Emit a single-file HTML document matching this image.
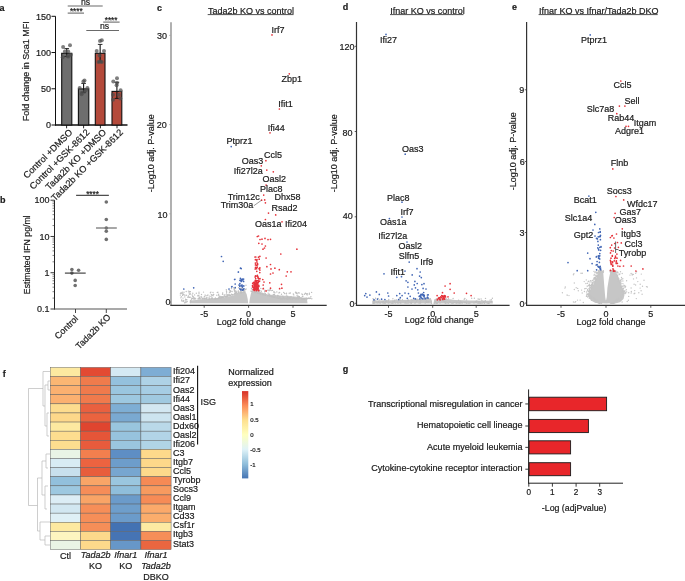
<!DOCTYPE html>
<html><head><meta charset="utf-8"><style>
html,body{margin:0;padding:0;background:#fff;width:685px;height:581px;overflow:hidden}
svg{display:block;will-change:transform}
text{font-family:"Liberation Sans",sans-serif;fill:#1a1a1a;stroke:#1a1a1a;stroke-width:0.2px}
</style></head><body>
<svg width="685" height="581" viewBox="0 0 685 581">
<rect width="685" height="581" fill="#fff"/>
<text x="-0.40" y="10.70" font-size="9" font-weight="bold" fill="#000">a</text>
<text x="0.00" y="203.30" font-size="9" font-weight="bold" fill="#000">b</text>
<text x="157.00" y="10.60" font-size="9" font-weight="bold" fill="#000">c</text>
<text x="342.80" y="10.40" font-size="9" font-weight="bold" fill="#000">d</text>
<text x="512.00" y="10.40" font-size="9" font-weight="bold" fill="#000">e</text>
<text x="2.80" y="376.60" font-size="9" font-weight="bold" fill="#000">f</text>
<text x="342.80" y="371.60" font-size="9" font-weight="bold" fill="#000">g</text>
<line x1="55.50" y1="16.30" x2="55.50" y2="125.50" stroke="#111" stroke-width="1"/>
<line x1="55.00" y1="125.00" x2="127.50" y2="125.00" stroke="#111" stroke-width="1.35"/>
<line x1="51.50" y1="16.30" x2="55.50" y2="16.30" stroke="#111" stroke-width="1"/>
<text x="51.00" y="19.50" font-size="9" text-anchor="end">150</text>
<line x1="51.50" y1="52.53" x2="55.50" y2="52.53" stroke="#111" stroke-width="1"/>
<text x="51.00" y="55.73" font-size="9" text-anchor="end">100</text>
<line x1="51.50" y1="88.77" x2="55.50" y2="88.77" stroke="#111" stroke-width="1"/>
<text x="51.00" y="91.97" font-size="9" text-anchor="end">50</text>
<line x1="51.50" y1="125.00" x2="55.50" y2="125.00" stroke="#111" stroke-width="1"/>
<text x="51.00" y="128.20" font-size="9" text-anchor="end">0</text>
<text x="29.30" y="71.20" font-size="9" text-anchor="middle" transform="rotate(-90 29.30 71.20)">Fold change in Sca1 MFI</text>
<rect x="61.70" y="53.30" width="10.10" height="71.70" fill="#6e6e6e" stroke="#111" stroke-width="1.1"/>
<rect x="78.40" y="88.90" width="10.40" height="36.10" fill="#6e6e6e" stroke="#111" stroke-width="1.1"/>
<rect x="95.30" y="53.30" width="9.70" height="71.70" fill="#b44a3b" stroke="#111" stroke-width="1.1"/>
<rect x="112.00" y="91.40" width="9.80" height="33.60" fill="#b44a3b" stroke="#111" stroke-width="1.1"/>
<line x1="66.75" y1="48.60" x2="66.75" y2="56.50" stroke="#111" stroke-width="1.1"/>
<line x1="64.45" y1="48.60" x2="69.05" y2="48.60" stroke="#111" stroke-width="0.9"/>
<line x1="64.45" y1="56.50" x2="69.05" y2="56.50" stroke="#111" stroke-width="0.9"/>
<line x1="83.60" y1="83.40" x2="83.60" y2="92.30" stroke="#111" stroke-width="1.1"/>
<line x1="81.30" y1="83.40" x2="85.90" y2="83.40" stroke="#111" stroke-width="0.9"/>
<line x1="81.30" y1="92.30" x2="85.90" y2="92.30" stroke="#111" stroke-width="0.9"/>
<line x1="100.15" y1="44.40" x2="100.15" y2="62.00" stroke="#111" stroke-width="1.1"/>
<line x1="97.85" y1="44.40" x2="102.45" y2="44.40" stroke="#111" stroke-width="0.9"/>
<line x1="97.85" y1="62.00" x2="102.45" y2="62.00" stroke="#111" stroke-width="0.9"/>
<line x1="116.90" y1="82.30" x2="116.90" y2="98.40" stroke="#111" stroke-width="1.1"/>
<line x1="114.60" y1="82.30" x2="119.20" y2="82.30" stroke="#111" stroke-width="0.9"/>
<line x1="114.60" y1="98.40" x2="119.20" y2="98.40" stroke="#111" stroke-width="0.9"/>
<circle cx="63.10" cy="46.90" r="2.0" fill="#4e4e4e" fill-opacity="0.72"/>
<circle cx="70.00" cy="45.30" r="2.0" fill="#4e4e4e" fill-opacity="0.72"/>
<circle cx="64.90" cy="51.50" r="2.0" fill="#4e4e4e" fill-opacity="0.72"/>
<circle cx="68.20" cy="51.50" r="2.0" fill="#4e4e4e" fill-opacity="0.72"/>
<circle cx="70.80" cy="54.80" r="2.0" fill="#4e4e4e" fill-opacity="0.72"/>
<circle cx="62.70" cy="57.30" r="2.0" fill="#4e4e4e" fill-opacity="0.72"/>
<circle cx="67.50" cy="56.20" r="2.0" fill="#4e4e4e" fill-opacity="0.72"/>
<circle cx="68.50" cy="56.50" r="2.0" fill="#4e4e4e" fill-opacity="0.72"/>
<circle cx="84.50" cy="80.50" r="2.0" fill="#4e4e4e" fill-opacity="0.72"/>
<circle cx="83.40" cy="81.60" r="2.0" fill="#4e4e4e" fill-opacity="0.72"/>
<circle cx="79.70" cy="88.10" r="2.0" fill="#4e4e4e" fill-opacity="0.72"/>
<circle cx="87.40" cy="88.10" r="2.0" fill="#4e4e4e" fill-opacity="0.72"/>
<circle cx="81.60" cy="92.90" r="2.0" fill="#4e4e4e" fill-opacity="0.72"/>
<circle cx="84.50" cy="91.80" r="2.0" fill="#4e4e4e" fill-opacity="0.72"/>
<circle cx="81.60" cy="94.30" r="2.0" fill="#4e4e4e" fill-opacity="0.72"/>
<circle cx="86.00" cy="90.00" r="2.0" fill="#4e4e4e" fill-opacity="0.72"/>
<circle cx="100.00" cy="40.90" r="2.0" fill="#4e4e4e" fill-opacity="0.72"/>
<circle cx="101.80" cy="40.20" r="2.0" fill="#4e4e4e" fill-opacity="0.72"/>
<circle cx="96.70" cy="51.10" r="2.0" fill="#4e4e4e" fill-opacity="0.72"/>
<circle cx="104.00" cy="51.10" r="2.0" fill="#4e4e4e" fill-opacity="0.72"/>
<circle cx="99.60" cy="55.50" r="2.0" fill="#4e4e4e" fill-opacity="0.72"/>
<circle cx="100.30" cy="61.40" r="2.0" fill="#4e4e4e" fill-opacity="0.72"/>
<circle cx="98.50" cy="62.10" r="2.0" fill="#4e4e4e" fill-opacity="0.72"/>
<circle cx="101.80" cy="62.10" r="2.0" fill="#4e4e4e" fill-opacity="0.72"/>
<circle cx="117.00" cy="78.30" r="2.0" fill="#4e4e4e" fill-opacity="0.72"/>
<circle cx="113.30" cy="81.60" r="2.0" fill="#4e4e4e" fill-opacity="0.72"/>
<circle cx="117.00" cy="83.00" r="2.0" fill="#4e4e4e" fill-opacity="0.72"/>
<circle cx="116.60" cy="85.20" r="2.0" fill="#4e4e4e" fill-opacity="0.72"/>
<circle cx="120.60" cy="90.30" r="2.0" fill="#4e4e4e" fill-opacity="0.72"/>
<circle cx="113.00" cy="94.70" r="2.0" fill="#4e4e4e" fill-opacity="0.72"/>
<circle cx="118.80" cy="94.70" r="2.0" fill="#4e4e4e" fill-opacity="0.72"/>
<circle cx="113.00" cy="99.80" r="2.0" fill="#4e4e4e" fill-opacity="0.72"/>
<circle cx="120.30" cy="98.40" r="2.0" fill="#4e4e4e" fill-opacity="0.72"/>
<line x1="66.60" y1="125.00" x2="66.60" y2="128.30" stroke="#111" stroke-width="0.9"/>
<line x1="83.60" y1="125.00" x2="83.60" y2="128.30" stroke="#111" stroke-width="0.9"/>
<line x1="100.40" y1="125.00" x2="100.40" y2="128.30" stroke="#111" stroke-width="0.9"/>
<line x1="117.00" y1="125.00" x2="117.00" y2="128.30" stroke="#111" stroke-width="0.9"/>
<text x="73.10" y="133.00" font-size="9.2" text-anchor="end" transform="rotate(-45 73.10 133.00)">Control +DMSO</text>
<text x="90.10" y="133.00" font-size="9.2" text-anchor="end" transform="rotate(-45 90.10 133.00)">Control +GSK-8612</text>
<text x="106.90" y="133.00" font-size="9.2" text-anchor="end" transform="rotate(-45 106.90 133.00)">Tada2b KO +DMSO</text>
<text x="123.50" y="133.00" font-size="9.2" text-anchor="end" transform="rotate(-45 123.50 133.00)">Tada2b KO +GSK-8612</text>
<line x1="67.70" y1="5.95" x2="102.70" y2="5.95" stroke="#6a6a6a" stroke-width="1.1"/>
<text x="85.50" y="4.60" font-size="8.7" text-anchor="middle">ns</text>
<line x1="67.70" y1="13.10" x2="84.00" y2="13.10" stroke="#6a6a6a" stroke-width="1.1"/>
<text x="76.30" y="14.20" font-size="8.2" text-anchor="middle">****</text>
<line x1="103.20" y1="22.10" x2="119.60" y2="22.10" stroke="#6a6a6a" stroke-width="1.1"/>
<text x="111.10" y="23.20" font-size="8.2" text-anchor="middle">****</text>
<line x1="86.30" y1="30.50" x2="119.00" y2="30.50" stroke="#6a6a6a" stroke-width="1.1"/>
<text x="104.60" y="28.90" font-size="8.7" text-anchor="middle">ns</text>
<line x1="54.50" y1="200.20" x2="54.50" y2="309.50" stroke="#222" stroke-width="1"/>
<line x1="54.00" y1="309.00" x2="127.00" y2="309.00" stroke="#555" stroke-width="1.2"/>
<line x1="50.50" y1="200.20" x2="54.50" y2="200.20" stroke="#222" stroke-width="0.9"/>
<text x="49.60" y="203.40" font-size="9" text-anchor="end">100</text>
<line x1="50.50" y1="236.47" x2="54.50" y2="236.47" stroke="#222" stroke-width="0.9"/>
<text x="49.60" y="239.67" font-size="9" text-anchor="end">10</text>
<line x1="50.50" y1="272.73" x2="54.50" y2="272.73" stroke="#222" stroke-width="0.9"/>
<text x="49.60" y="275.93" font-size="9" text-anchor="end">1</text>
<line x1="50.50" y1="309.00" x2="54.50" y2="309.00" stroke="#222" stroke-width="0.9"/>
<text x="49.60" y="312.20" font-size="9" text-anchor="end">0.1</text>
<line x1="52.50" y1="298.08" x2="54.50" y2="298.08" stroke="#333" stroke-width="0.6"/>
<line x1="52.50" y1="291.70" x2="54.50" y2="291.70" stroke="#333" stroke-width="0.6"/>
<line x1="52.50" y1="287.17" x2="54.50" y2="287.17" stroke="#333" stroke-width="0.6"/>
<line x1="52.50" y1="283.65" x2="54.50" y2="283.65" stroke="#333" stroke-width="0.6"/>
<line x1="52.50" y1="280.78" x2="54.50" y2="280.78" stroke="#333" stroke-width="0.6"/>
<line x1="52.50" y1="278.35" x2="54.50" y2="278.35" stroke="#333" stroke-width="0.6"/>
<line x1="52.50" y1="276.25" x2="54.50" y2="276.25" stroke="#333" stroke-width="0.6"/>
<line x1="52.50" y1="274.39" x2="54.50" y2="274.39" stroke="#333" stroke-width="0.6"/>
<line x1="52.50" y1="261.82" x2="54.50" y2="261.82" stroke="#333" stroke-width="0.6"/>
<line x1="52.50" y1="255.43" x2="54.50" y2="255.43" stroke="#333" stroke-width="0.6"/>
<line x1="52.50" y1="250.90" x2="54.50" y2="250.90" stroke="#333" stroke-width="0.6"/>
<line x1="52.50" y1="247.38" x2="54.50" y2="247.38" stroke="#333" stroke-width="0.6"/>
<line x1="52.50" y1="244.51" x2="54.50" y2="244.51" stroke="#333" stroke-width="0.6"/>
<line x1="52.50" y1="242.08" x2="54.50" y2="242.08" stroke="#333" stroke-width="0.6"/>
<line x1="52.50" y1="239.98" x2="54.50" y2="239.98" stroke="#333" stroke-width="0.6"/>
<line x1="52.50" y1="238.13" x2="54.50" y2="238.13" stroke="#333" stroke-width="0.6"/>
<line x1="52.50" y1="225.55" x2="54.50" y2="225.55" stroke="#333" stroke-width="0.6"/>
<line x1="52.50" y1="219.16" x2="54.50" y2="219.16" stroke="#333" stroke-width="0.6"/>
<line x1="52.50" y1="214.63" x2="54.50" y2="214.63" stroke="#333" stroke-width="0.6"/>
<line x1="52.50" y1="211.12" x2="54.50" y2="211.12" stroke="#333" stroke-width="0.6"/>
<line x1="52.50" y1="208.25" x2="54.50" y2="208.25" stroke="#333" stroke-width="0.6"/>
<line x1="52.50" y1="205.82" x2="54.50" y2="205.82" stroke="#333" stroke-width="0.6"/>
<line x1="52.50" y1="203.71" x2="54.50" y2="203.71" stroke="#333" stroke-width="0.6"/>
<line x1="52.50" y1="201.86" x2="54.50" y2="201.86" stroke="#333" stroke-width="0.6"/>
<text x="29.60" y="254.80" font-size="8.7" text-anchor="middle" transform="rotate(-90 29.60 254.80)">Estimated IFN pg/ml</text>
<circle cx="71.90" cy="269.50" r="1.8" fill="#707070"/>
<circle cx="78.60" cy="270.20" r="1.8" fill="#707070"/>
<circle cx="71.90" cy="273.10" r="1.8" fill="#707070"/>
<circle cx="75.20" cy="280.40" r="1.8" fill="#707070"/>
<circle cx="75.20" cy="285.50" r="1.8" fill="#707070"/>
<circle cx="106.30" cy="202.00" r="1.8" fill="#707070"/>
<circle cx="106.30" cy="219.50" r="1.8" fill="#707070"/>
<circle cx="106.30" cy="228.00" r="1.8" fill="#707070"/>
<circle cx="106.30" cy="231.30" r="1.8" fill="#707070"/>
<circle cx="106.30" cy="239.40" r="1.8" fill="#707070"/>
<line x1="64.90" y1="273.10" x2="85.70" y2="273.10" stroke="#333" stroke-width="1.1"/>
<line x1="96.00" y1="228.00" x2="116.80" y2="228.00" stroke="#777" stroke-width="1.3"/>
<line x1="75.50" y1="309.00" x2="75.50" y2="313.00" stroke="#333" stroke-width="0.9"/>
<line x1="106.30" y1="309.00" x2="106.30" y2="313.00" stroke="#333" stroke-width="0.9"/>
<text x="78.80" y="319.20" font-size="9" text-anchor="end" transform="rotate(-45 78.80 319.20)">Control</text>
<text x="111.20" y="317.80" font-size="9" text-anchor="end" transform="rotate(-45 111.20 317.80)">Tada2b KO</text>
<line x1="76.10" y1="195.30" x2="108.90" y2="195.30" stroke="#222" stroke-width="1"/>
<text x="92.50" y="196.70" font-size="8.2" text-anchor="middle">****</text>
<line x1="171.00" y1="22.30" x2="171.00" y2="305.90" stroke="#a3a3a3" stroke-width="1.7"/>
<line x1="170.40" y1="305.30" x2="326.70" y2="305.30" stroke="#333" stroke-width="1.2"/>
<line x1="169.20" y1="35.40" x2="171.00" y2="35.40" stroke="#a3a3a3" stroke-width="0.8"/>
<text x="167.10" y="38.70" font-size="9" text-anchor="end">30</text>
<line x1="169.20" y1="124.60" x2="171.00" y2="124.60" stroke="#a3a3a3" stroke-width="0.8"/>
<text x="166.70" y="128.00" font-size="9" text-anchor="end">20</text>
<line x1="169.20" y1="213.80" x2="171.00" y2="213.80" stroke="#a3a3a3" stroke-width="0.8"/>
<text x="167.40" y="217.70" font-size="9" text-anchor="end">10</text>
<line x1="169.20" y1="302.80" x2="171.00" y2="302.80" stroke="#a3a3a3" stroke-width="0.8"/>
<text x="170.40" y="305.00" font-size="9" text-anchor="end">0</text>
<line x1="204.20" y1="305.30" x2="204.20" y2="307.80" stroke="#333" stroke-width="0.8"/>
<text x="204.20" y="316.50" font-size="9" text-anchor="middle">-5</text>
<line x1="248.60" y1="305.30" x2="248.60" y2="307.80" stroke="#333" stroke-width="0.8"/>
<text x="248.60" y="316.50" font-size="9" text-anchor="middle">0</text>
<line x1="293.00" y1="305.30" x2="293.00" y2="307.80" stroke="#333" stroke-width="0.8"/>
<text x="293.00" y="316.50" font-size="9" text-anchor="middle">5</text>
<text x="251.20" y="325.30" font-size="9" text-anchor="middle">Log2 fold change</text>
<text x="153.60" y="153.30" font-size="9" text-anchor="middle" transform="rotate(-90 153.60 153.30)">-Log10 adj. P-value</text>
<text x="208.00" y="13.60" font-size="9">Tada2b KO vs control</text>
<line x1="207.70" y1="14.60" x2="293.60" y2="14.60" stroke="#222" stroke-width="0.8"/>
<polygon points="190.0,303.3 190.0,300.5 205.0,299.2 220.0,297.8 228.0,296.8 234.0,295.2 238.0,292.8 241.0,291.7 245.3,291.7 246.6,294.0 247.7,299.0 248.2,303.3" fill="#c6c6c6"/>
<polygon points="249.2,303.3 249.8,299.0 250.8,294.0 251.8,291.2 258.0,291.0 262.0,292.6 268.0,294.5 280.0,295.5 295.0,296.6 303.0,297.6 307.0,299.2 307.5,303.3" fill="#c6c6c6"/>
<path d="M211.4 297.9h0M228.8 294.4h0M262.6 294.5h0M181.7 299.9h0M210.9 292.1h0M242.1 288.5h0M242.9 290.6h0M199.9 297.2h0M294.6 298.0h0M277.8 296.2h0M188.5 295.9h0M219.8 298.2h0M294.2 298.3h0M274.9 292.8h0M274.3 291.9h0M232.1 291.5h0M238.7 287.7h0M296.0 299.0h0M197.9 298.9h0M307.4 298.4h0M262.7 294.3h0M230.9 295.1h0M257.2 291.8h0M299.4 296.8h0M302.6 294.6h0M310.8 296.9h0M201.5 294.5h0M307.3 293.8h0M255.1 290.1h0M207.9 295.0h0M255.7 292.6h0M188.4 291.1h0M191.7 298.1h0M199.9 298.8h0M281.5 294.3h0M185.8 302.5h0M274.8 297.3h0M296.3 292.4h0M311.8 298.8h0M190.2 302.6h0M206.1 298.5h0M260.6 294.0h0M185.6 299.2h0M306.5 294.0h0M229.9 295.0h0M265.0 293.6h0M253.8 290.6h0M304.2 298.1h0M236.9 291.3h0M211.4 298.8h0M309.1 298.0h0M252.4 291.9h0M234.8 293.1h0M182.6 295.4h0M187.9 297.4h0M269.7 296.0h0M273.3 294.4h0M182.9 294.9h0M307.2 298.9h0M240.2 291.6h0M222.2 297.3h0M221.3 297.5h0M258.6 293.3h0M229.8 292.5h0M183.6 294.2h0M220.9 297.8h0M286.1 298.9h0M204.7 298.4h0M272.1 296.9h0M222.5 297.3h0M290.0 298.4h0M292.9 299.0h0M224.4 295.1h0M296.8 298.4h0M209.7 299.0h0M205.2 295.3h0M290.7 299.0h0M216.8 295.3h0M264.7 291.4h0M225.6 296.7h0M218.5 295.0h0M215.8 298.7h0M235.0 293.9h0M234.1 289.2h0M200.6 299.0h0M304.5 294.2h0M310.3 298.4h0M305.4 293.4h0M209.3 296.1h0M290.4 297.0h0M218.2 298.3h0M210.0 299.0h0M257.7 293.1h0M286.9 299.0h0M299.3 296.7h0M301.9 294.0h0M298.8 297.7h0M181.7 300.9h0M219.6 296.2h0M234.6 288.7h0M260.8 293.8h0M213.3 294.5h0M243.0 289.1h0M226.4 296.5h0M287.8 299.0h0M284.5 293.5h0M286.4 295.1h0M181.0 292.6h0M186.6 299.8h0M235.8 293.5h0M282.5 299.0h0M187.2 301.5h0M189.0 292.7h0M191.4 299.2h0M221.5 297.5h0M265.4 293.8h0M227.6 296.2h0M223.4 297.3h0M253.3 289.6h0M230.2 295.6h0M203.6 298.6h0M259.8 290.4h0M230.2 292.0h0M262.2 293.8h0M229.2 295.0h0M272.8 296.5h0M271.6 296.1h0M212.4 297.9h0M271.8 296.8h0M236.1 293.6h0M296.1 293.3h0M229.4 290.7h0M284.4 298.9h0M241.3 292.8h0M287.3 297.0h0M297.1 295.5h0M268.1 293.1h0M254.4 292.4h0M257.6 293.2h0M198.9 295.8h0M185.8 301.8h0M296.2 299.0h0M183.1 301.5h0M291.4 296.9h0M290.4 293.0h0M256.4 289.4h0M184.8 296.9h0M274.4 297.4h0M278.9 292.9h0M188.1 296.2h0M289.3 298.9h0M203.7 298.9h0M261.3 291.2h0M232.0 294.8h0M232.4 294.8h0M235.2 294.3h0M246.0 285.2h0M234.5 291.6h0M201.2 296.7h0M279.8 296.7h0M243.9 290.3h0M298.5 299.0h0M192.7 296.1h0M301.0 298.0h0M238.5 290.9h0M204.6 298.9h0M206.3 297.6h0M221.6 297.7h0M271.2 290.6h0M219.1 295.9h0M234.5 290.2h0M257.2 293.0h0M208.7 299.0h0M243.3 291.9h0M202.7 298.7h0M222.5 294.3h0M199.0 292.2h0M243.3 290.8h0M241.8 288.6h0M288.5 297.8h0M243.5 289.6h0M293.1 298.6h0M276.8 291.9h0M241.7 292.6h0M211.0 296.4h0M269.1 290.0h0M292.7 298.9h0M205.0 298.9h0M204.7 296.5h0M293.3 293.9h0M213.7 294.5h0M221.4 297.3h0M276.2 297.9h0M192.2 294.9h0M218.5 298.2h0M256.6 290.8h0M180.9 297.8h0M244.1 292.1h0M257.2 287.1h0M231.6 294.1h0M195.7 298.9h0M267.8 295.8h0M297.1 293.7h0M192.8 293.2h0M229.4 292.6h0M280.0 298.7h0M269.2 294.2h0M286.4 298.9h0M279.6 292.5h0M268.8 295.0h0M195.0 298.2h0M226.5 293.9h0M269.6 295.0h0M204.0 297.1h0M263.3 294.6h0M297.5 297.0h0M196.3 293.3h0M198.7 298.7h0M275.1 296.1h0M253.2 290.3h0M240.4 292.8h0M203.3 299.0h0M274.5 294.5h0M251.7 288.9h0M227.4 296.2h0M230.6 290.8h0M185.6 300.0h0M281.5 298.7h0M223.9 296.7h0M251.5 288.5h0M226.6 292.3h0M194.8 298.9h0M193.2 299.0h0M282.8 296.3h0M204.4 299.0h0M235.0 291.5h0M287.7 296.1h0M258.1 293.4h0M232.6 295.0h0M255.0 292.5h0M213.0 295.7h0M184.0 292.3h0M305.3 298.6h0M252.9 290.7h0M263.6 288.2h0M270.6 296.3h0M293.5 298.2h0M259.4 291.0h0M180.3 295.1h0M244.9 290.9h0M240.8 292.9h0M184.9 295.2h0M238.6 292.2h0M306.6 294.0h0M197.9 295.5h0M262.3 294.4h0M227.5 296.2h0M190.3 291.8h0M222.7 292.9h0M271.7 296.8h0M293.3 297.5h0M302.4 296.4h0M277.6 298.0h0M286.5 293.3h0M293.7 298.4h0M279.9 298.0h0M194.4 299.0h0M190.3 301.1h0M245.6 289.4h0M250.9 291.1h0M265.7 295.1h0M241.3 289.8h0M233.0 294.9h0M298.7 296.4h0M228.4 295.7h0M258.7 293.5h0M180.4 293.6h0M198.9 298.3h0M205.8 298.9h0M202.5 298.5h0M202.2 299.0h0M194.5 299.0h0M244.7 292.0h0M183.0 298.1h0M272.9 297.1h0M233.2 294.4h0M183.5 300.4h0M192.4 298.3h0M201.7 297.3h0M225.7 296.7h0M186.8 299.7h0M284.0 298.3h0M303.1 298.8h0M213.0 298.9h0M287.5 297.3h0M225.5 296.8h0M270.1 290.0h0M258.2 293.4h0M184.0 301.0h0M184.8 295.1h0M298.8 298.9h0M308.5 298.2h0M286.1 293.6h0M304.1 299.0h0M220.2 296.5h0M304.9 299.0h0M218.7 294.2h0M195.1 298.6h0M224.1 294.9h0M302.6 299.0h0M277.7 295.5h0M290.3 297.8h0M301.9 298.7h0M234.7 294.4h0M282.9 298.2h0M215.6 299.0h0M275.1 296.1h0M273.8 296.9h0M244.3 292.0h0M273.8 297.3h0M241.6 289.7h0M269.4 296.2h0M211.3 294.8h0M264.8 290.3h0M295.1 298.4h0M298.4 296.2h0M224.0 296.8h0M189.5 291.5h0M193.9 297.7h0M194.5 299.0h0M265.7 295.2h0M186.4 295.3h0M257.3 293.2h0M210.4 292.7h0M209.1 297.8h0M235.4 291.0h0M259.8 290.4h0M204.8 299.0h0M190.4 301.6h0M183.2 300.6h0M297.9 299.0h0M241.4 292.7h0M289.5 297.4h0M264.7 291.9h0M295.1 298.7h0M259.6 293.1h0M194.6 294.9h0M258.5 289.7h0M207.2 297.9h0M241.3 290.1h0M190.2 297.2h0M189.4 294.2h0M235.8 292.3h0M260.0 293.8h0M226.3 289.7h0M224.2 296.5h0M191.1 301.0h0M302.9 296.3h0M295.5 292.3h0M260.8 288.4h0M235.3 288.4h0M299.2 293.0h0M243.9 288.9h0M233.7 287.8h0M301.5 298.8h0M303.3 299.0h0M192.7 296.4h0M218.8 297.5h0M264.4 294.9h0M278.4 298.3h0M237.1 293.6h0M278.0 295.4h0M217.9 298.7h0M219.5 297.8h0M190.2 293.8h0M272.5 290.4h0M309.3 294.3h0M229.2 295.8h0M221.2 297.2h0M251.6 291.4h0M292.6 298.8h0M241.1 288.0h0M286.5 298.8h0M212.0 295.3h0M181.3 296.6h0M201.9 299.0h0M206.9 295.8h0M241.5 286.2h0M283.7 292.4h0M184.6 302.8h0M237.1 293.6h0M186.8 301.9h0M221.1 297.8h0M285.9 298.5h0M214.4 299.0h0M236.7 292.2h0M269.1 290.8h0M286.7 298.9h0M197.9 295.9h0M284.2 298.1h0M289.7 297.8h0M216.9 298.9h0M182.3 292.2h0M299.6 298.3h0M267.8 290.2h0M287.4 297.5h0M234.7 293.5h0M202.5 299.0h0M270.3 289.6h0M252.2 291.4h0M226.5 295.9h0M286.0 298.4h0M306.6 299.0h0M221.6 296.8h0M234.4 290.2h0M289.2 293.3h0M260.8 294.1h0M255.8 291.6h0M244.4 291.9h0M273.6 292.0h0M193.5 296.9h0M229.0 294.9h0M298.2 292.8h0M264.9 295.0h0M301.5 299.0h0M230.6 291.5h0M221.7 297.6h0M305.4 293.1h0M221.9 297.3h0M217.2 298.8h0M213.0 292.4h0M190.5 300.6h0M190.5 294.1h0M290.7 297.2h0M288.0 299.0h0M217.2 292.6h0M189.2 297.2h0M215.4 297.9h0M186.2 291.5h0M199.0 293.8h0M203.5 292.1h0M269.0 294.2h0M198.8 299.0h0M280.2 298.9h0M205.0 295.1h0M295.5 299.0h0M306.8 297.9h0M230.5 295.5h0M231.5 288.5h0M217.1 298.9h0M199.2 299.0h0M226.5 291.2h0M190.2 291.7h0M311.6 292.4h0M212.5 298.7h0M305.5 298.2h0M272.9 296.8h0M182.8 294.0h0M283.2 297.7h0M241.3 291.7h0M238.4 292.5h0M290.0 298.9h0M258.4 287.8h0M292.0 299.0h0M307.2 294.9h0M202.2 298.9h0M206.7 299.0h0M309.1 298.5h0M295.2 299.0h0M181.8 293.5h0M310.9 296.7h0M281.1 299.0h0M251.3 291.1h0M199.3 297.5h0M222.7 296.6h0M229.3 295.6h0M227.3 294.8h0M309.4 293.3h0M293.8 294.9h0M217.9 292.2h0M215.6 299.0h0M246.1 288.9h0M225.0 295.0h0" stroke="#bfbfbf" stroke-width="1.4" stroke-linecap="round" stroke-opacity="1" fill="none"/>
<path d="M183.8 289.0h0M193.7 287.8h0M221.5 256.5h0M223.2 261.3h0M238.4 272.0h0M240.5 268.2h0M241.2 268.6h0M238.3 272.1h0M234.9 279.3h0M235.2 284.0h0M232.0 286.6h0M229.0 289.0h0M235.2 287.5h0M234.6 279.5h0M231.7 286.8h0M239.0 285.0h0M231.2 146.6h0M242.4 287.1h0M243.1 289.8h0M242.9 289.5h0M239.9 283.6h0M243.8 285.9h0M243.6 279.0h0M241.8 280.7h0M242.1 285.0h0M239.9 280.3h0M241.0 289.4h0M243.0 279.6h0M243.1 279.3h0M242.4 279.1h0M239.8 288.8h0M240.7 280.3h0M243.9 288.8h0M241.0 290.0h0M242.1 286.3h0M240.7 289.7h0M242.7 290.1h0M243.6 281.4h0M241.3 279.7h0M240.4 278.3h0M241.1 285.3h0M239.8 286.3h0M241.2 281.5h0" stroke="#4166b5" stroke-width="1.7" stroke-linecap="round" stroke-opacity="1" fill="none"/>
<path d="M257.3 236.5h0M258.5 236.0h0M260.0 239.5h0M262.0 239.2h0M265.0 238.4h0M268.0 239.6h0M270.5 239.3h0M258.8 243.3h0M262.0 244.0h0M265.4 246.0h0M263.0 249.2h0M264.5 248.0h0M296.9 249.2h0M280.8 254.0h0M266.1 258.0h0M266.9 266.7h0M270.5 264.5h0M271.0 268.9h0M274.9 268.2h0M279.3 269.7h0M270.5 274.0h0M273.0 273.0h0M287.3 271.8h0M291.0 271.8h0M286.2 276.0h0M262.8 279.5h0M269.8 282.8h0M281.5 284.3h0M279.6 288.7h0M281.9 288.2h0M270.5 288.2h0M266.1 290.9h0M263.2 285.0h0M263.2 288.7h0M264.0 282.0h0M265.9 160.7h0M261.3 165.8h0M266.8 170.1h0M273.3 171.8h0M266.1 185.1h0M263.7 195.1h0M261.6 200.2h0M264.7 199.9h0M265.4 202.8h0M268.5 213.1h0M275.7 214.9h0M265.4 219.5h0M282.0 221.8h0M272.0 34.9h0M289.3 73.8h0M279.4 109.0h0M270.0 132.8h0M259.1 268.7h0M256.6 268.7h0M258.5 257.2h0M259.9 256.3h0M258.7 278.5h0M255.1 277.0h0M256.8 271.3h0M255.0 257.0h0M255.9 281.5h0M256.0 276.1h0M259.6 281.1h0M256.7 265.3h0M257.6 276.6h0M255.5 275.9h0M259.0 278.9h0M255.2 281.2h0M255.5 264.9h0M258.1 280.5h0M256.7 280.7h0M257.7 264.1h0M256.6 260.5h0M255.4 259.7h0M258.4 282.6h0M255.8 257.0h0M259.9 270.1h0M257.0 262.1h0M258.0 278.0h0M257.3 267.1h0M255.3 280.4h0M255.2 269.0h0M259.2 259.2h0M258.7 281.3h0M258.2 277.0h0M255.5 267.4h0M255.7 278.5h0M256.5 267.9h0M260.0 278.7h0M259.9 267.9h0M257.4 275.4h0M257.4 263.6h0M257.0 259.7h0M256.9 282.4h0M259.8 272.6h0M257.5 264.8h0M255.4 263.1h0M257.6 289.8h0M254.8 289.1h0M257.5 288.3h0M256.8 288.8h0M254.9 288.3h0M254.3 286.4h0M257.5 288.2h0M254.4 290.5h0M256.7 287.2h0M252.6 286.9h0M254.1 288.0h0M255.5 289.4h0M256.7 289.2h0M254.8 287.8h0M257.3 289.5h0M254.8 289.6h0M258.2 288.2h0M258.8 290.6h0M255.9 286.8h0M253.6 289.5h0M258.6 286.3h0M257.0 288.5h0M257.2 283.5h0M257.6 287.2h0M256.8 285.8h0M256.6 289.0h0M256.6 288.5h0M252.7 283.4h0M255.4 287.9h0M253.9 288.2h0M256.6 282.4h0M255.6 284.0h0M252.9 283.2h0M254.6 283.6h0M253.8 282.3h0M255.5 285.4h0M256.5 287.3h0M254.0 290.1h0M252.5 285.6h0M254.3 285.7h0M253.2 289.5h0M254.9 282.3h0M256.5 282.9h0M256.0 285.1h0M256.3 290.6h0M257.8 285.8h0M257.8 287.8h0M254.9 283.3h0M256.4 287.1h0M258.7 290.7h0M256.5 285.2h0M258.3 282.0h0M253.2 287.1h0M256.5 283.3h0M256.6 290.0h0M254.9 285.9h0M254.0 284.6h0M258.8 285.4h0M258.7 290.2h0M256.4 284.3h0M258.9 286.5h0M255.2 284.9h0M258.9 286.4h0M254.4 286.3h0M253.3 287.6h0M255.4 284.6h0M257.6 289.4h0M252.6 286.8h0M254.3 290.4h0M257.6 284.2h0" stroke="#e5323a" stroke-width="1.7" stroke-linecap="round" stroke-opacity="1" fill="none"/>
<text x="271.60" y="33.10" font-size="9">Irf7</text>
<text x="281.60" y="82.00" font-size="9">Zbp1</text>
<text x="278.20" y="106.80" font-size="9">Ifit1</text>
<text x="267.80" y="130.60" font-size="9">Ifi44</text>
<text x="226.50" y="144.00" font-size="9">Ptprz1</text>
<text x="263.90" y="158.10" font-size="9">Ccl5</text>
<text x="241.80" y="163.80" font-size="9">Oas3</text>
<text x="233.80" y="174.40" font-size="9">Ifi27l2a</text>
<text x="262.50" y="182.20" font-size="9">Oasl2</text>
<text x="259.90" y="192.00" font-size="9">Plac8</text>
<text x="227.70" y="200.20" font-size="9">Trim12c</text>
<text x="274.50" y="199.90" font-size="9">Dhx58</text>
<text x="220.70" y="207.60" font-size="9">Trim30a</text>
<text x="271.60" y="211.40" font-size="9">Rsad2</text>
<text x="255.10" y="226.90" font-size="9">Oas1a</text>
<text x="284.90" y="227.40" font-size="9">Ifi204</text>
<line x1="253.90" y1="205.70" x2="261.60" y2="200.20" stroke="#555" stroke-width="0.6"/>
<line x1="356.50" y1="22.00" x2="356.50" y2="305.90" stroke="#333" stroke-width="1.2"/>
<line x1="355.90" y1="305.30" x2="509.60" y2="305.30" stroke="#333" stroke-width="1.2"/>
<line x1="354.70" y1="46.30" x2="356.50" y2="46.30" stroke="#333" stroke-width="0.8"/>
<text x="354.60" y="50.00" font-size="9" text-anchor="end">120</text>
<line x1="354.70" y1="131.50" x2="356.50" y2="131.50" stroke="#333" stroke-width="0.8"/>
<text x="352.40" y="135.50" font-size="9" text-anchor="end">80</text>
<line x1="354.70" y1="216.80" x2="356.50" y2="216.80" stroke="#333" stroke-width="0.8"/>
<text x="352.80" y="219.40" font-size="9" text-anchor="end">40</text>
<line x1="354.70" y1="303.30" x2="356.50" y2="303.30" stroke="#333" stroke-width="0.8"/>
<text x="354.40" y="306.50" font-size="9" text-anchor="end">0</text>
<line x1="388.50" y1="305.30" x2="388.50" y2="307.80" stroke="#333" stroke-width="0.8"/>
<text x="388.50" y="316.50" font-size="9" text-anchor="middle">-5</text>
<line x1="432.70" y1="305.30" x2="432.70" y2="307.80" stroke="#333" stroke-width="0.8"/>
<text x="432.70" y="316.50" font-size="9" text-anchor="middle">0</text>
<line x1="476.20" y1="305.30" x2="476.20" y2="307.80" stroke="#333" stroke-width="0.8"/>
<text x="476.20" y="316.50" font-size="9" text-anchor="middle">5</text>
<text x="439.30" y="323.20" font-size="9" text-anchor="middle">Log2 fold change</text>
<text x="336.70" y="153.30" font-size="9" text-anchor="middle" transform="rotate(-90 336.70 153.30)">-Log10 adj. P-value</text>
<text x="390.30" y="13.60" font-size="9">Ifnar KO vs control</text>
<line x1="390.00" y1="14.60" x2="463.50" y2="14.60" stroke="#222" stroke-width="0.8"/>
<polygon points="372.5,303.4 373.0,300.6 390.0,300.2 410.0,299.8 424.0,298.6 429.0,298.2 431.5,299.5 432.2,303.4" fill="#c6c6c6"/>
<polygon points="433.5,303.4 434.2,299.5 436.0,298.6 446.0,298.8 455.0,300.0 470.0,300.4 492.8,300.8 492.8,303.4" fill="#c6c6c6"/>
<path d="M428.0 302.5h0M388.8 299.4h0M372.8 301.9h0M480.7 303.2h0M439.1 301.3h0M376.9 302.5h0M457.1 302.2h0M459.7 303.1h0M400.8 303.1h0M483.8 301.5h0M465.7 302.5h0M462.3 303.1h0M407.2 300.9h0M459.8 302.3h0M382.6 302.8h0M397.4 302.8h0M470.0 303.0h0M479.3 299.3h0M378.6 302.5h0M431.5 303.2h0M423.4 299.1h0M385.6 301.4h0M386.7 301.5h0M480.3 303.0h0M373.0 303.2h0M437.3 303.2h0M382.3 302.0h0M483.4 302.3h0M420.2 301.2h0M383.3 301.5h0M392.9 301.3h0M488.0 303.2h0M439.2 301.4h0M390.1 302.8h0M492.4 298.2h0M386.7 300.7h0M487.1 302.9h0M445.9 303.2h0M416.3 300.9h0M443.4 300.2h0M382.5 302.6h0M476.5 301.5h0M426.6 302.4h0M491.3 301.6h0M374.2 300.0h0M411.8 302.3h0M397.8 302.2h0M411.3 303.2h0M448.2 303.1h0M466.9 303.2h0M466.5 299.9h0M457.8 302.9h0M461.3 302.3h0M399.9 298.6h0M420.5 302.5h0M476.0 302.5h0M452.8 303.1h0M474.0 302.9h0M378.1 298.4h0M392.9 298.7h0M491.3 301.4h0M373.4 303.2h0M397.2 302.4h0M446.0 298.5h0M414.9 303.1h0M440.0 303.1h0M382.5 301.7h0M456.2 303.2h0M426.6 300.7h0M464.5 302.5h0M479.3 303.1h0M458.6 300.2h0M478.5 302.0h0M384.0 303.2h0M436.0 303.0h0M448.2 303.2h0M466.4 303.0h0M373.6 303.0h0M427.3 301.6h0M419.0 303.1h0M430.3 298.7h0M436.8 298.8h0M375.5 298.3h0M479.6 301.7h0M435.3 301.8h0M482.1 303.2h0M449.8 301.7h0M408.3 300.6h0M459.2 303.1h0M456.6 302.2h0M431.3 301.2h0M378.4 301.4h0M417.2 299.3h0M400.0 299.8h0M460.3 301.2h0M478.0 303.2h0M444.2 301.3h0M454.0 302.4h0M380.3 303.0h0M445.6 303.0h0M379.9 302.6h0M428.9 301.8h0M375.1 300.2h0M412.4 300.1h0M373.0 298.6h0M443.4 298.4h0M491.3 299.7h0M384.9 302.6h0M400.0 300.2h0M395.3 303.0h0M385.4 303.1h0M485.5 298.4h0M417.1 300.5h0M428.6 301.8h0M416.7 301.2h0M400.6 302.9h0M434.7 303.0h0M425.1 298.7h0M374.7 303.1h0M468.8 303.2h0M402.4 299.6h0M445.2 303.0h0M379.1 302.8h0M408.3 300.0h0M490.0 300.1h0M481.1 298.9h0M478.1 299.0h0M489.1 303.2h0M410.4 302.9h0M445.1 302.0h0M414.0 299.7h0M420.3 303.0h0M405.4 302.1h0M445.9 301.6h0M425.2 303.0h0M420.7 302.7h0M392.6 301.7h0M394.8 300.7h0M451.7 303.1h0M447.7 302.6h0M426.1 301.4h0M464.2 299.3h0M460.8 303.0h0M437.6 302.6h0M374.3 301.7h0M428.9 299.4h0M411.2 299.7h0M434.2 303.2h0M458.7 302.8h0M436.6 303.2h0M373.3 299.0h0M377.1 303.1h0M391.8 303.2h0M471.7 298.2h0M450.6 302.4h0M479.5 301.9h0M388.3 300.8h0M415.4 302.8h0M410.8 302.5h0M394.1 301.3h0M477.1 301.6h0M373.1 300.9h0M374.4 302.1h0M476.8 300.9h0M481.9 300.4h0M405.0 303.1h0M426.6 300.9h0M400.1 302.7h0M462.5 302.6h0M444.7 301.7h0M484.4 303.2h0M394.6 300.2h0M453.0 303.2h0M388.3 303.0h0M437.7 299.1h0M398.2 303.0h0M455.0 302.3h0M474.4 298.2h0M485.3 300.6h0M379.4 299.9h0M420.2 302.1h0M448.5 298.6h0M439.3 299.0h0M488.7 303.2h0M414.9 299.3h0M464.9 298.5h0M394.5 301.8h0M484.9 301.7h0M453.1 298.4h0M393.0 303.2h0M475.3 301.5h0M396.2 299.7h0M406.3 303.1h0M408.0 303.2h0M421.1 300.2h0M426.9 298.5h0M377.1 303.1h0" stroke="#bfbfbf" stroke-width="1.4" stroke-linecap="round" stroke-opacity="1" fill="none"/>
<path d="M386.0 34.4h0M405.2 154.2h0M402.0 202.2h0M402.0 217.0h0M389.4 218.6h0M407.0 242.0h0M409.2 262.1h0M384.0 273.8h0M396.8 277.3h0M401.5 276.7h0M405.0 271.1h0M417.0 268.7h0M420.2 272.0h0M412.2 274.9h0M419.6 276.1h0M421.3 277.6h0M406.1 280.8h0M407.9 282.3h0M414.9 281.4h0M417.2 283.5h0M414.3 284.9h0M421.9 284.6h0M424.0 283.7h0M407.9 287.0h0M412.0 289.0h0M415.5 287.8h0M417.8 289.8h0M423.1 288.4h0M426.0 289.0h0M418.4 293.0h0M423.7 292.5h0M376.4 291.9h0M379.3 294.4h0M387.8 293.0h0M388.6 296.0h0M365.8 293.6h0M369.9 295.1h0M367.0 297.1h0M364.7 295.6h0M374.0 299.8h0M377.5 299.1h0M381.6 299.2h0M384.9 299.5h0M396.8 295.6h0M399.7 293.6h0M402.1 295.6h0M400.3 297.7h0M398.6 299.5h0M405.0 293.0h0M408.5 293.6h0M407.3 298.3h0M410.2 296.3h0M413.7 298.3h0M415.5 298.9h0M420.7 296.5h0M421.9 298.3h0M423.7 296.0h0M425.4 298.3h0M427.2 297.7h0M428.3 298.0h0M420.4 296.9h0M421.0 297.3h0M424.2 296.9h0M427.4 297.9h0M428.2 294.8h0M422.8 298.8h0M423.0 295.4h0M423.8 294.9h0M427.5 297.2h0M419.9 298.8h0M424.2 295.3h0M425.1 298.7h0M422.5 294.1h0M421.0 294.3h0M424.3 295.6h0M427.5 295.0h0M419.2 296.3h0M420.2 295.6h0M421.3 294.9h0M425.4 298.7h0" stroke="#4166b5" stroke-width="1.7" stroke-linecap="round" stroke-opacity="1" fill="none"/>
<path d="M445.1 286.0h0M450.1 283.7h0M450.1 289.3h0M442.5 292.7h0M454.2 293.0h0M466.5 293.3h0M471.1 295.6h0M448.0 296.8h0M440.0 298.4h0M439.6 299.6h0M441.7 295.6h0M443.4 296.4h0M437.1 295.6h0M444.3 298.7h0M439.9 298.0h0M443.0 295.8h0M443.1 298.7h0M445.2 295.8h0M441.9 297.8h0M444.3 297.1h0M442.7 299.5h0M439.8 297.8h0M444.7 295.7h0M445.5 296.9h0M440.8 296.8h0M443.9 297.9h0M443.4 296.0h0M444.6 299.2h0M442.8 296.5h0M439.0 297.5h0M437.3 299.8h0M440.4 299.8h0M438.3 298.4h0M443.9 298.4h0" stroke="#e5323a" stroke-width="1.7" stroke-linecap="round" stroke-opacity="1" fill="none"/>
<text x="379.90" y="42.70" font-size="9">Ifi27</text>
<text x="401.90" y="151.60" font-size="9">Oas3</text>
<text x="387.10" y="201.40" font-size="9">Plac8</text>
<text x="400.60" y="214.60" font-size="9">Irf7</text>
<text x="379.90" y="225.40" font-size="9">Oas1a</text>
<text x="378.20" y="238.90" font-size="9">Ifi27l2a</text>
<text x="398.50" y="248.70" font-size="9">Oasl2</text>
<text x="398.80" y="259.00" font-size="9">Slfn5</text>
<text x="420.30" y="265.00" font-size="9">Irf9</text>
<text x="390.60" y="274.80" font-size="9">Ifit1</text>
<line x1="526.60" y1="22.00" x2="526.60" y2="305.90" stroke="#333" stroke-width="1.2"/>
<line x1="526.00" y1="305.30" x2="685.00" y2="305.30" stroke="#333" stroke-width="1.2"/>
<line x1="524.80" y1="89.80" x2="526.60" y2="89.80" stroke="#333" stroke-width="0.8"/>
<text x="524.30" y="93.30" font-size="9" text-anchor="end">9</text>
<line x1="524.80" y1="161.50" x2="526.60" y2="161.50" stroke="#333" stroke-width="0.8"/>
<text x="524.70" y="164.90" font-size="9" text-anchor="end">6</text>
<line x1="524.80" y1="232.50" x2="526.60" y2="232.50" stroke="#333" stroke-width="0.8"/>
<text x="524.60" y="235.80" font-size="9" text-anchor="end">3</text>
<line x1="524.80" y1="303.10" x2="526.60" y2="303.10" stroke="#333" stroke-width="0.8"/>
<text x="524.40" y="306.50" font-size="9" text-anchor="end">0</text>
<line x1="561.00" y1="305.30" x2="561.00" y2="307.80" stroke="#333" stroke-width="0.8"/>
<text x="561.00" y="316.50" font-size="9" text-anchor="middle">-5</text>
<line x1="606.00" y1="305.30" x2="606.00" y2="307.80" stroke="#333" stroke-width="0.8"/>
<text x="606.00" y="316.50" font-size="9" text-anchor="middle">0</text>
<line x1="650.80" y1="305.30" x2="650.80" y2="307.80" stroke="#333" stroke-width="0.8"/>
<text x="650.80" y="316.50" font-size="9" text-anchor="middle">5</text>
<text x="611.00" y="324.60" font-size="9" text-anchor="middle">Log2 fold change</text>
<text x="516.20" y="151.20" font-size="9" text-anchor="middle" transform="rotate(-90 516.20 151.20)">-Log10 adj. P-value</text>
<text x="538.90" y="13.60" font-size="9">Ifnar KO vs Ifnar/Tada2b DKO</text>
<line x1="538.60" y1="14.60" x2="657.70" y2="14.60" stroke="#222" stroke-width="0.8"/>
<polygon points="605.8,303.3 600.0,303.4 595.0,302.8 591.0,300.5 588.5,297.0 588.0,294.0 590.0,290.0 593.0,285.0 596.0,279.0 598.2,273.5 600.5,271.5 603.2,272.0 604.2,285.0 605.2,297.0 605.8,300.5" fill="#c6c6c6"/>
<polygon points="606.0,300.5 606.8,297.0 607.4,288.0 609.0,278.0 610.4,272.0 613.0,271.5 616.5,273.5 619.0,279.0 621.5,285.0 623.5,290.0 624.5,295.0 623.5,299.0 620.0,302.3 615.0,303.4 606.0,303.3" fill="#c6c6c6"/>
<rect x="604.50" y="300.30" width="3.00" height="3.00" fill="#c6c6c6"/>
<path d="M592.5 283.2h0M589.7 298.0h0M594.8 298.2h0M618.8 298.5h0M588.3 291.8h0M589.8 296.7h0M596.3 276.4h0M622.9 281.0h0M617.7 279.2h0M590.5 280.7h0M624.1 291.9h0M596.5 301.1h0M621.7 279.1h0M618.5 280.9h0M592.9 283.5h0M591.2 288.8h0M588.5 290.9h0M589.5 289.9h0M593.6 297.9h0M591.6 284.4h0M623.8 293.2h0M591.5 300.4h0M618.0 277.6h0M596.8 276.5h0M619.0 278.9h0M590.0 282.1h0M596.5 272.6h0M590.7 285.6h0M623.0 286.5h0M588.8 296.1h0M593.1 283.2h0M592.6 284.6h0M623.7 288.1h0M598.7 301.7h0M598.9 271.6h0M591.5 286.3h0M587.4 290.6h0M586.8 294.9h0M596.9 272.7h0M621.0 296.1h0M587.6 289.5h0M592.2 283.2h0M621.3 297.2h0M591.2 296.3h0M587.3 294.4h0M595.3 280.5h0M610.8 303.5h0M590.6 287.7h0M591.1 296.3h0M614.2 301.2h0M618.4 298.3h0M595.7 300.8h0M584.4 291.5h0M586.1 288.4h0M594.2 278.9h0M619.4 300.8h0M593.0 297.5h0M588.1 293.7h0M595.8 279.0h0M619.9 274.0h0M619.2 274.5h0M618.2 277.6h0M616.0 301.1h0M623.5 288.4h0M599.5 273.0h0M600.1 303.0h0M614.7 301.3h0M622.8 278.7h0M591.3 285.4h0M592.2 280.4h0M588.6 295.7h0M596.4 279.6h0M599.7 303.5h0M599.0 273.9h0M596.0 277.2h0M620.3 280.4h0M587.7 297.1h0M618.0 299.0h0M589.7 290.4h0M593.8 278.2h0M597.1 301.4h0M622.6 289.7h0M618.0 277.7h0M626.6 291.9h0M611.9 303.2h0M616.3 300.1h0M589.5 289.5h0M592.3 285.9h0M588.9 288.6h0M622.7 294.7h0M599.8 302.6h0M621.0 281.2h0M594.3 274.8h0M621.1 283.3h0M621.0 283.8h0M594.3 281.7h0M614.3 302.5h0M620.8 279.9h0M624.0 293.4h0M625.3 292.4h0M624.4 291.4h0M616.7 274.8h0M625.6 293.6h0M595.6 278.5h0M617.6 272.0h0M619.0 280.9h0M593.8 298.4h0M598.0 272.7h0M598.8 274.0h0M614.7 301.7h0M595.8 300.8h0M596.2 300.0h0M593.0 282.7h0M616.9 275.9h0M620.2 282.3h0M619.9 300.1h0M590.2 285.4h0M616.2 299.6h0M624.0 292.0h0M591.8 286.9h0M616.8 275.0h0M589.7 284.3h0M595.8 276.9h0M618.0 298.3h0M597.9 301.4h0M620.8 287.0h0M594.9 282.3h0M599.3 303.5h0M616.9 301.8h0M624.9 291.3h0M594.6 300.5h0M597.5 300.2h0M613.9 303.2h0M617.0 301.3h0M625.1 287.4h0M624.9 286.2h0M626.3 289.8h0M624.4 293.6h0M595.0 279.4h0M589.9 287.7h0M594.5 277.8h0M624.0 291.5h0M618.9 280.8h0M625.1 287.6h0M616.5 299.2h0M595.7 275.3h0M589.9 294.4h0M618.4 300.0h0M623.0 291.8h0M596.4 278.9h0M621.2 287.4h0M622.3 291.3h0M624.5 285.7h0M596.5 273.1h0M597.4 272.7h0M622.7 289.2h0M613.1 302.4h0M595.0 301.1h0M597.2 274.0h0M595.1 278.0h0M588.3 281.5h0M596.6 279.2h0M612.9 303.3h0M616.2 273.0h0M623.0 289.8h0M597.4 301.1h0M613.9 302.3h0M612.2 302.5h0M592.5 285.3h0M620.5 271.7h0M592.5 285.2h0M593.0 297.7h0M618.5 279.5h0M591.8 281.9h0M617.2 299.7h0M589.2 291.2h0M615.4 301.3h0M618.0 278.4h0M593.4 281.9h0M591.6 288.3h0M624.9 286.1h0M622.2 292.1h0M589.6 291.5h0M596.2 276.1h0M599.1 302.2h0M592.6 285.5h0M617.7 275.3h0M624.9 290.7h0M623.1 290.7h0M588.7 281.3h0M598.0 275.8h0M625.6 286.3h0M616.1 300.1h0M619.4 283.1h0M595.4 278.6h0M591.9 286.9h0M598.2 302.7h0M587.5 283.2h0M598.7 302.2h0M592.2 285.6h0M611.2 303.4h0M590.8 295.1h0M618.3 281.1h0M617.3 300.6h0M614.3 302.6h0M622.9 283.6h0M596.1 276.5h0M600.2 271.9h0M591.5 298.3h0M621.5 277.5h0M610.8 303.3h0M616.9 272.6h0M595.4 281.5h0M623.3 291.5h0M589.8 287.5h0M617.7 276.6h0M597.1 275.5h0M595.8 299.7h0M592.7 284.2h0M615.1 300.9h0M618.1 272.9h0M588.6 293.9h0M595.4 299.5h0M596.1 302.2h0M594.4 277.5h0M623.9 285.3h0M589.9 286.9h0M615.2 301.3h0M594.1 275.2h0M615.6 301.4h0M615.7 300.9h0M589.5 288.9h0M590.6 287.3h0M586.9 293.9h0M588.9 296.4h0M586.4 296.3h0M597.8 276.7h0M597.9 301.8h0M590.9 298.0h0M587.1 296.2h0M614.2 303.0h0M588.1 294.4h0M601.4 303.2h0M598.4 302.2h0M612.3 303.3h0M595.2 280.5h0M616.9 272.8h0M596.8 302.0h0M589.4 285.8h0M589.4 296.1h0M620.6 287.2h0M587.1 286.1h0M597.5 276.8h0M593.3 280.0h0M622.4 286.1h0M589.0 295.4h0M594.4 300.1h0M593.9 298.6h0M594.0 278.8h0M586.5 292.0h0M641.1 290.7h0M576.2 287.7h0M636.6 271.8h0M573.4 274.7h0M574.3 289.5h0M569.0 295.6h0M588.7 285.2h0M595.9 271.7h0M573.9 273.8h0M634.1 293.8h0M634.1 284.3h0M628.4 300.2h0M631.1 273.4h0M632.2 274.3h0M577.5 300.1h0M587.7 286.1h0M642.1 294.3h0M631.4 291.8h0M628.7 292.7h0M575.0 302.2h0M581.0 273.2h0M631.1 288.0h0M574.3 283.0h0M622.2 273.5h0M644.0 280.3h0M594.9 272.8h0M638.8 292.7h0M578.3 290.8h0M581.6 290.1h0M564.9 288.1h0M636.3 298.6h0M562.4 292.8h0M580.1 300.1h0M646.5 286.6h0M631.3 291.5h0M633.5 278.9h0M567.2 295.2h0M640.2 284.2h0M589.3 298.3h0M635.7 273.2h0M630.0 275.1h0M567.1 294.9h0M642.5 286.2h0M622.1 302.0h0M586.3 279.9h0M584.2 281.6h0M627.2 301.5h0M632.2 275.0h0M637.8 281.6h0M582.2 293.0h0M636.5 277.9h0M631.1 293.1h0M640.1 288.1h0M634.7 290.6h0M633.3 274.4h0M641.3 274.1h0M594.0 271.4h0M647.3 287.0h0M573.4 302.0h0M577.7 288.4h0M583.3 302.5h0M565.3 287.0h0M634.8 293.3h0M585.9 283.5h0M582.3 273.3h0M628.7 296.4h0M626.6 280.7h0M635.6 285.0h0M584.8 288.8h0M575.7 301.6h0M599.4 271.2h0M610.7 270.7h0M598.2 270.9h0M613.2 270.7h0M602.9 272.5h0M610.3 272.0h0M598.2 270.8h0M610.9 271.1h0M603.2 271.1h0M616.0 271.2h0M600.1 270.6h0M611.3 271.4h0M600.3 271.4h0M611.8 270.6h0M603.5 271.1h0M613.0 270.6h0M603.2 272.4h0M615.3 272.3h0M598.5 272.0h0M612.2 271.5h0M603.2 272.2h0M613.9 271.5h0M598.7 270.5h0M615.5 271.8h0M602.8 271.6h0M614.0 270.6h0M601.5 271.8h0M610.3 271.6h0M601.2 272.0h0M613.5 272.5h0M599.4 271.5h0M612.9 271.1h0M599.3 271.9h0M614.4 271.9h0M598.8 271.3h0M612.1 271.3h0M603.3 270.6h0M614.7 270.6h0M602.4 271.8h0M615.6 272.2h0M599.1 271.5h0M610.7 271.3h0M601.0 272.1h0M614.5 272.3h0M600.7 272.0h0M615.6 272.2h0M600.1 271.1h0M611.8 270.8h0M598.6 272.3h0M610.1 271.4h0M600.6 271.4h0M612.8 270.7h0M599.2 272.2h0M611.5 270.8h0M602.5 272.3h0M610.0 270.5h0M603.3 271.9h0M613.2 272.4h0M600.8 272.2h0M614.1 272.2h0M601.1 271.8h0M612.9 270.6h0M600.9 270.6h0M614.3 272.0h0M599.4 270.9h0M614.7 272.2h0M602.5 271.9h0M613.4 270.7h0M603.1 272.2h0M610.9 272.0h0M601.3 270.6h0M613.9 271.0h0M602.5 271.5h0M612.3 270.9h0M601.4 270.7h0M616.0 271.6h0M599.9 272.2h0M613.5 271.9h0M599.7 271.5h0M614.4 271.1h0" stroke="#c4c4c4" stroke-width="1.4" stroke-linecap="round" stroke-opacity="1" fill="none"/>
<path d="M588.9 196.1h0M590.2 34.9h0M595.8 212.3h0M594.8 224.4h0M593.0 230.0h0M595.0 236.0h0M568.0 262.6h0M577.2 270.7h0M587.7 270.7h0M587.7 253.1h0M590.0 258.7h0M592.1 263.6h0M599.2 258.6h0M600.0 268.8h0M600.2 266.3h0M598.0 266.4h0M596.2 265.0h0M596.3 256.9h0M598.2 236.8h0M600.5 235.4h0M600.2 232.2h0M597.8 247.9h0M599.7 258.9h0M598.7 267.0h0M596.5 238.3h0M598.9 257.1h0M600.1 267.8h0M598.6 258.2h0M600.2 236.6h0M598.7 250.0h0M599.8 253.6h0M597.4 238.9h0M598.5 232.5h0M600.6 268.1h0M600.4 239.7h0M599.8 228.9h0M597.9 241.4h0M599.8 255.8h0M599.6 236.7h0M599.4 262.4h0M601.0 246.7h0M599.1 267.2h0M596.6 256.7h0M597.1 264.7h0M600.2 231.6h0M596.6 269.8h0M598.4 255.8h0M599.8 247.3h0M597.1 261.5h0M598.6 249.3h0M600.7 269.7h0M598.3 245.1h0M600.6 250.3h0M601.1 246.9h0" stroke="#4166b5" stroke-width="1.7" stroke-linecap="round" stroke-opacity="1" fill="none"/>
<path d="M620.8 81.0h0M619.4 106.1h0M624.9 106.1h0M616.8 113.7h0M626.0 126.3h0M628.5 126.3h0M612.8 168.9h0M615.9 196.5h0M623.7 199.9h0M615.1 213.3h0M614.2 217.5h0M622.3 228.8h0M616.5 234.0h0M612.6 261.9h0M616.2 263.4h0M619.9 266.3h0M623.5 266.0h0M631.2 266.0h0M635.9 271.0h0M642.9 268.9h0M620.6 260.4h0M618.4 247.3h0M621.3 242.9h0M610.3 247.7h0M617.0 258.2h0M617.9 266.0h0M614.7 243.5h0M612.3 235.7h0M611.7 245.1h0M617.5 242.5h0M611.8 235.8h0M610.7 262.1h0M612.3 255.7h0M616.1 262.1h0M611.0 263.7h0M614.7 258.5h0M613.0 268.9h0M613.9 238.0h0M616.4 260.9h0M611.3 264.5h0M617.4 263.3h0M612.8 266.2h0M610.4 237.5h0M612.3 256.2h0M614.3 260.8h0M613.2 251.0h0M615.2 257.5h0M611.0 258.2h0M612.7 265.2h0M614.9 271.1h0M615.5 256.0h0M614.6 248.0h0M613.5 271.2h0M610.5 252.9h0M612.5 262.7h0M610.9 261.7h0M610.5 270.4h0M610.4 260.4h0M615.4 257.4h0M611.3 250.6h0M616.9 254.1h0M613.6 270.1h0M612.9 265.8h0" stroke="#e5323a" stroke-width="1.7" stroke-linecap="round" stroke-opacity="1" fill="none"/>
<text x="581.10" y="42.70" font-size="9">Ptprz1</text>
<text x="613.40" y="87.50" font-size="9">Ccl5</text>
<text x="624.60" y="103.50" font-size="9">Sell</text>
<text x="586.70" y="111.60" font-size="9">Slc7a8</text>
<text x="607.70" y="120.60" font-size="9">Rab44</text>
<text x="633.70" y="125.70" font-size="9">Itgam</text>
<text x="615.10" y="134.00" font-size="9">Adgre1</text>
<text x="610.80" y="166.40" font-size="9">Flnb</text>
<text x="606.80" y="193.90" font-size="9">Socs3</text>
<text x="573.80" y="202.50" font-size="9">Bcat1</text>
<text x="627.10" y="206.50" font-size="9">Wfdc17</text>
<text x="619.40" y="214.50" font-size="9">Gas7</text>
<text x="564.80" y="221.40" font-size="9">Slc1a4</text>
<text x="614.70" y="223.10" font-size="9">Oas3</text>
<text x="573.80" y="238.10" font-size="9">Gpt2</text>
<text x="621.10" y="236.90" font-size="9">Itgb3</text>
<text x="624.50" y="247.20" font-size="9">Ccl3</text>
<text x="618.80" y="255.70" font-size="9">Tyrobp</text>
<line x1="615.60" y1="241.50" x2="615.60" y2="253.00" stroke="#444" stroke-width="0.8"/>
<line x1="615.60" y1="249.50" x2="618.40" y2="249.50" stroke="#444" stroke-width="0.8"/>
<rect x="50.30" y="367.40" width="30.20" height="9.11" fill="#fde9a0" stroke="#5a5a5a" stroke-width="0.45"/>
<rect x="80.50" y="367.40" width="30.20" height="9.11" fill="#e34a33" stroke="#5a5a5a" stroke-width="0.45"/>
<rect x="110.70" y="367.40" width="30.20" height="9.11" fill="#d4e9f3" stroke="#5a5a5a" stroke-width="0.45"/>
<rect x="140.90" y="367.40" width="30.20" height="9.11" fill="#7eadd4" stroke="#5a5a5a" stroke-width="0.45"/>
<text x="173.00" y="374.40" font-size="9">Ifi204</text>
<rect x="50.30" y="376.51" width="30.20" height="9.11" fill="#fbb673" stroke="#5a5a5a" stroke-width="0.45"/>
<rect x="80.50" y="376.51" width="30.20" height="9.11" fill="#f07b4c" stroke="#5a5a5a" stroke-width="0.45"/>
<rect x="110.70" y="376.51" width="30.20" height="9.11" fill="#94c1dd" stroke="#5a5a5a" stroke-width="0.45"/>
<rect x="140.90" y="376.51" width="30.20" height="9.11" fill="#aed2e6" stroke="#5a5a5a" stroke-width="0.45"/>
<text x="173.00" y="383.46" font-size="9">Ifi27</text>
<rect x="50.30" y="385.62" width="30.20" height="9.11" fill="#fbb070" stroke="#5a5a5a" stroke-width="0.45"/>
<rect x="80.50" y="385.62" width="30.20" height="9.11" fill="#f07a4c" stroke="#5a5a5a" stroke-width="0.45"/>
<rect x="110.70" y="385.62" width="30.20" height="9.11" fill="#9ac6df" stroke="#5a5a5a" stroke-width="0.45"/>
<rect x="140.90" y="385.62" width="30.20" height="9.11" fill="#a6cde4" stroke="#5a5a5a" stroke-width="0.45"/>
<text x="173.00" y="392.52" font-size="9">Oas2</text>
<rect x="50.30" y="394.73" width="30.20" height="9.11" fill="#fbb070" stroke="#5a5a5a" stroke-width="0.45"/>
<rect x="80.50" y="394.73" width="30.20" height="9.11" fill="#f07a4c" stroke="#5a5a5a" stroke-width="0.45"/>
<rect x="110.70" y="394.73" width="30.20" height="9.11" fill="#9dc8e0" stroke="#5a5a5a" stroke-width="0.45"/>
<rect x="140.90" y="394.73" width="30.20" height="9.11" fill="#a0c9e0" stroke="#5a5a5a" stroke-width="0.45"/>
<text x="173.00" y="401.58" font-size="9">Ifi44</text>
<rect x="50.30" y="403.84" width="30.20" height="9.11" fill="#fddc8e" stroke="#5a5a5a" stroke-width="0.45"/>
<rect x="80.50" y="403.84" width="30.20" height="9.11" fill="#e9603f" stroke="#5a5a5a" stroke-width="0.45"/>
<rect x="110.70" y="403.84" width="30.20" height="9.11" fill="#7eaed4" stroke="#5a5a5a" stroke-width="0.45"/>
<rect x="140.90" y="403.84" width="30.20" height="9.11" fill="#d3e7f1" stroke="#5a5a5a" stroke-width="0.45"/>
<text x="173.00" y="410.64" font-size="9">Oas3</text>
<rect x="50.30" y="412.95" width="30.20" height="9.11" fill="#fdd88a" stroke="#5a5a5a" stroke-width="0.45"/>
<rect x="80.50" y="412.95" width="30.20" height="9.11" fill="#ea633f" stroke="#5a5a5a" stroke-width="0.45"/>
<rect x="110.70" y="412.95" width="30.20" height="9.11" fill="#7aa9d1" stroke="#5a5a5a" stroke-width="0.45"/>
<rect x="140.90" y="412.95" width="30.20" height="9.11" fill="#cde4ef" stroke="#5a5a5a" stroke-width="0.45"/>
<text x="173.00" y="419.70" font-size="9">Oasl1</text>
<rect x="50.30" y="422.06" width="30.20" height="9.11" fill="#fde9a0" stroke="#5a5a5a" stroke-width="0.45"/>
<rect x="80.50" y="422.06" width="30.20" height="9.11" fill="#e0452f" stroke="#5a5a5a" stroke-width="0.45"/>
<rect x="110.70" y="422.06" width="30.20" height="9.11" fill="#99c5de" stroke="#5a5a5a" stroke-width="0.45"/>
<rect x="140.90" y="422.06" width="30.20" height="9.11" fill="#bad9e9" stroke="#5a5a5a" stroke-width="0.45"/>
<text x="173.00" y="428.76" font-size="9">Ddx60</text>
<rect x="50.30" y="431.17" width="30.20" height="9.11" fill="#fddd8f" stroke="#5a5a5a" stroke-width="0.45"/>
<rect x="80.50" y="431.17" width="30.20" height="9.11" fill="#e55538" stroke="#5a5a5a" stroke-width="0.45"/>
<rect x="110.70" y="431.17" width="30.20" height="9.11" fill="#97c3dd" stroke="#5a5a5a" stroke-width="0.45"/>
<rect x="140.90" y="431.17" width="30.20" height="9.11" fill="#b2d4e7" stroke="#5a5a5a" stroke-width="0.45"/>
<text x="173.00" y="437.82" font-size="9">Oasl2</text>
<rect x="50.30" y="440.28" width="30.20" height="9.11" fill="#fddd8f" stroke="#5a5a5a" stroke-width="0.45"/>
<rect x="80.50" y="440.28" width="30.20" height="9.11" fill="#e85b3c" stroke="#5a5a5a" stroke-width="0.45"/>
<rect x="110.70" y="440.28" width="30.20" height="9.11" fill="#9ac5de" stroke="#5a5a5a" stroke-width="0.45"/>
<rect x="140.90" y="440.28" width="30.20" height="9.11" fill="#b0d4e6" stroke="#5a5a5a" stroke-width="0.45"/>
<text x="173.00" y="446.88" font-size="9">Ifi206</text>
<rect x="50.30" y="449.39" width="30.20" height="9.11" fill="#e9f4e6" stroke="#5a5a5a" stroke-width="0.45"/>
<rect x="80.50" y="449.39" width="30.20" height="9.11" fill="#f27f4e" stroke="#5a5a5a" stroke-width="0.45"/>
<rect x="110.70" y="449.39" width="30.20" height="9.11" fill="#5e8ec4" stroke="#5a5a5a" stroke-width="0.45"/>
<rect x="140.90" y="449.39" width="30.20" height="9.11" fill="#fdd98b" stroke="#5a5a5a" stroke-width="0.45"/>
<text x="173.00" y="455.94" font-size="9">C3</text>
<rect x="50.30" y="458.50" width="30.20" height="9.11" fill="#d8ecf4" stroke="#5a5a5a" stroke-width="0.45"/>
<rect x="80.50" y="458.50" width="30.20" height="9.11" fill="#ec6340" stroke="#5a5a5a" stroke-width="0.45"/>
<rect x="110.70" y="458.50" width="30.20" height="9.11" fill="#6d9dcb" stroke="#5a5a5a" stroke-width="0.45"/>
<rect x="140.90" y="458.50" width="30.20" height="9.11" fill="#fdd88a" stroke="#5a5a5a" stroke-width="0.45"/>
<text x="173.00" y="465.00" font-size="9">Itgb7</text>
<rect x="50.30" y="467.61" width="30.20" height="9.11" fill="#c8e0ed" stroke="#5a5a5a" stroke-width="0.45"/>
<rect x="80.50" y="467.61" width="30.20" height="9.11" fill="#e85d3c" stroke="#5a5a5a" stroke-width="0.45"/>
<rect x="110.70" y="467.61" width="30.20" height="9.11" fill="#77a6d0" stroke="#5a5a5a" stroke-width="0.45"/>
<rect x="140.90" y="467.61" width="30.20" height="9.11" fill="#fdd98b" stroke="#5a5a5a" stroke-width="0.45"/>
<text x="173.00" y="474.06" font-size="9">Ccl5</text>
<rect x="50.30" y="476.72" width="30.20" height="9.11" fill="#92c0dc" stroke="#5a5a5a" stroke-width="0.45"/>
<rect x="80.50" y="476.72" width="30.20" height="9.11" fill="#f9a567" stroke="#5a5a5a" stroke-width="0.45"/>
<rect x="110.70" y="476.72" width="30.20" height="9.11" fill="#9ac6df" stroke="#5a5a5a" stroke-width="0.45"/>
<rect x="140.90" y="476.72" width="30.20" height="9.11" fill="#f58a55" stroke="#5a5a5a" stroke-width="0.45"/>
<text x="173.00" y="483.12" font-size="9">Tyrobp</text>
<rect x="50.30" y="485.83" width="30.20" height="9.11" fill="#9dc8e0" stroke="#5a5a5a" stroke-width="0.45"/>
<rect x="80.50" y="485.83" width="30.20" height="9.11" fill="#f68d58" stroke="#5a5a5a" stroke-width="0.45"/>
<rect x="110.70" y="485.83" width="30.20" height="9.11" fill="#8fbedb" stroke="#5a5a5a" stroke-width="0.45"/>
<rect x="140.90" y="485.83" width="30.20" height="9.11" fill="#f79a5f" stroke="#5a5a5a" stroke-width="0.45"/>
<text x="173.00" y="492.18" font-size="9">Socs3</text>
<rect x="50.30" y="494.94" width="30.20" height="9.11" fill="#dcedf5" stroke="#5a5a5a" stroke-width="0.45"/>
<rect x="80.50" y="494.94" width="30.20" height="9.11" fill="#f9a466" stroke="#5a5a5a" stroke-width="0.45"/>
<rect x="110.70" y="494.94" width="30.20" height="9.11" fill="#6b9bca" stroke="#5a5a5a" stroke-width="0.45"/>
<rect x="140.90" y="494.94" width="30.20" height="9.11" fill="#f68b56" stroke="#5a5a5a" stroke-width="0.45"/>
<text x="173.00" y="501.24" font-size="9">Ccl9</text>
<rect x="50.30" y="504.05" width="30.20" height="9.11" fill="#d2e7f1" stroke="#5a5a5a" stroke-width="0.45"/>
<rect x="80.50" y="504.05" width="30.20" height="9.11" fill="#f68e58" stroke="#5a5a5a" stroke-width="0.45"/>
<rect x="110.70" y="504.05" width="30.20" height="9.11" fill="#6e9ecb" stroke="#5a5a5a" stroke-width="0.45"/>
<rect x="140.90" y="504.05" width="30.20" height="9.11" fill="#fba96a" stroke="#5a5a5a" stroke-width="0.45"/>
<text x="173.00" y="510.30" font-size="9">Itgam</text>
<rect x="50.30" y="513.16" width="30.20" height="9.11" fill="#dff0f6" stroke="#5a5a5a" stroke-width="0.45"/>
<rect x="80.50" y="513.16" width="30.20" height="9.11" fill="#f68e58" stroke="#5a5a5a" stroke-width="0.45"/>
<rect x="110.70" y="513.16" width="30.20" height="9.11" fill="#6b9bca" stroke="#5a5a5a" stroke-width="0.45"/>
<rect x="140.90" y="513.16" width="30.20" height="9.11" fill="#fbad6c" stroke="#5a5a5a" stroke-width="0.45"/>
<text x="173.00" y="519.36" font-size="9">Cd33</text>
<rect x="50.30" y="522.27" width="30.20" height="9.11" fill="#fde9a0" stroke="#5a5a5a" stroke-width="0.45"/>
<rect x="80.50" y="522.27" width="30.20" height="9.11" fill="#f68e58" stroke="#5a5a5a" stroke-width="0.45"/>
<rect x="110.70" y="522.27" width="30.20" height="9.11" fill="#4372b3" stroke="#5a5a5a" stroke-width="0.45"/>
<rect x="140.90" y="522.27" width="30.20" height="9.11" fill="#fdeaa2" stroke="#5a5a5a" stroke-width="0.45"/>
<text x="173.00" y="528.42" font-size="9">Csf1r</text>
<rect x="50.30" y="531.38" width="30.20" height="9.11" fill="#fdf5c0" stroke="#5a5a5a" stroke-width="0.45"/>
<rect x="80.50" y="531.38" width="30.20" height="9.11" fill="#fdd98b" stroke="#5a5a5a" stroke-width="0.45"/>
<rect x="110.70" y="531.38" width="30.20" height="9.11" fill="#4674b4" stroke="#5a5a5a" stroke-width="0.45"/>
<rect x="140.90" y="531.38" width="30.20" height="9.11" fill="#f68e58" stroke="#5a5a5a" stroke-width="0.45"/>
<text x="173.00" y="537.48" font-size="9">Itgb3</text>
<rect x="50.30" y="540.49" width="30.20" height="9.11" fill="#eaf4e5" stroke="#5a5a5a" stroke-width="0.45"/>
<rect x="80.50" y="540.49" width="30.20" height="9.11" fill="#fdd98b" stroke="#5a5a5a" stroke-width="0.45"/>
<rect x="110.70" y="540.49" width="30.20" height="9.11" fill="#6797c8" stroke="#5a5a5a" stroke-width="0.45"/>
<rect x="140.90" y="540.49" width="30.20" height="9.11" fill="#ea6640" stroke="#5a5a5a" stroke-width="0.45"/>
<text x="173.00" y="546.54" font-size="9">Stat3</text>
<line x1="197.60" y1="365.70" x2="197.60" y2="444.60" stroke="#111" stroke-width="1.1"/>
<text x="200.40" y="405.20" font-size="9">ISG</text>
<line x1="28.50" y1="388.50" x2="28.50" y2="505.50" stroke="#b9b9b9" stroke-width="0.7"/>
<line x1="28.50" y1="388.50" x2="43.00" y2="388.50" stroke="#b9b9b9" stroke-width="0.7"/>
<line x1="28.50" y1="505.50" x2="37.50" y2="505.50" stroke="#b9b9b9" stroke-width="0.7"/>
<line x1="43.00" y1="371.50" x2="43.00" y2="406.00" stroke="#b9b9b9" stroke-width="0.7"/>
<line x1="43.00" y1="371.50" x2="50.30" y2="371.50" stroke="#b9b9b9" stroke-width="0.7"/>
<line x1="43.00" y1="406.00" x2="45.00" y2="406.00" stroke="#b9b9b9" stroke-width="0.7"/>
<line x1="45.00" y1="385.00" x2="45.00" y2="426.00" stroke="#b9b9b9" stroke-width="0.7"/>
<line x1="45.00" y1="385.00" x2="48.00" y2="385.00" stroke="#b9b9b9" stroke-width="0.7"/>
<line x1="45.00" y1="426.00" x2="47.00" y2="426.00" stroke="#b9b9b9" stroke-width="0.7"/>
<line x1="48.00" y1="381.00" x2="48.00" y2="390.00" stroke="#b9b9b9" stroke-width="0.7"/>
<line x1="48.00" y1="381.00" x2="50.30" y2="381.00" stroke="#b9b9b9" stroke-width="0.7"/>
<line x1="48.00" y1="390.00" x2="50.30" y2="390.00" stroke="#b9b9b9" stroke-width="0.7"/>
<line x1="47.00" y1="413.00" x2="47.00" y2="436.00" stroke="#b9b9b9" stroke-width="0.7"/>
<line x1="47.00" y1="413.00" x2="49.00" y2="413.00" stroke="#b9b9b9" stroke-width="0.7"/>
<line x1="47.00" y1="436.00" x2="49.00" y2="436.00" stroke="#b9b9b9" stroke-width="0.7"/>
<line x1="37.50" y1="478.00" x2="37.50" y2="531.00" stroke="#b9b9b9" stroke-width="0.7"/>
<line x1="37.50" y1="478.00" x2="42.00" y2="478.00" stroke="#b9b9b9" stroke-width="0.7"/>
<line x1="37.50" y1="531.00" x2="40.00" y2="531.00" stroke="#b9b9b9" stroke-width="0.7"/>
<line x1="42.00" y1="461.00" x2="42.00" y2="495.00" stroke="#b9b9b9" stroke-width="0.7"/>
<line x1="42.00" y1="461.00" x2="46.00" y2="461.00" stroke="#b9b9b9" stroke-width="0.7"/>
<line x1="42.00" y1="495.00" x2="45.00" y2="495.00" stroke="#b9b9b9" stroke-width="0.7"/>
<line x1="46.00" y1="454.00" x2="46.00" y2="468.00" stroke="#b9b9b9" stroke-width="0.7"/>
<line x1="46.00" y1="454.00" x2="50.30" y2="454.00" stroke="#b9b9b9" stroke-width="0.7"/>
<line x1="46.00" y1="468.00" x2="48.00" y2="468.00" stroke="#b9b9b9" stroke-width="0.7"/>
<line x1="45.00" y1="486.00" x2="45.00" y2="509.00" stroke="#b9b9b9" stroke-width="0.7"/>
<line x1="45.00" y1="486.00" x2="48.00" y2="486.00" stroke="#b9b9b9" stroke-width="0.7"/>
<line x1="45.00" y1="509.00" x2="47.00" y2="509.00" stroke="#b9b9b9" stroke-width="0.7"/>
<line x1="40.00" y1="522.00" x2="40.00" y2="540.00" stroke="#b9b9b9" stroke-width="0.7"/>
<line x1="40.00" y1="522.00" x2="50.30" y2="522.00" stroke="#b9b9b9" stroke-width="0.7"/>
<line x1="40.00" y1="540.00" x2="45.00" y2="540.00" stroke="#b9b9b9" stroke-width="0.7"/>
<line x1="45.00" y1="536.00" x2="45.00" y2="545.00" stroke="#b9b9b9" stroke-width="0.7"/>
<line x1="45.00" y1="536.00" x2="50.30" y2="536.00" stroke="#b9b9b9" stroke-width="0.7"/>
<line x1="45.00" y1="545.00" x2="50.30" y2="545.00" stroke="#b9b9b9" stroke-width="0.7"/>
<text x="65.40" y="558.90" font-size="9" text-anchor="middle">Ctl</text>
<text x="95.60" y="557.90" font-size="9" text-anchor="middle" font-style="italic">Tada2b</text>
<text x="95.60" y="568.90" font-size="9" text-anchor="middle">KO</text>
<text x="125.80" y="557.90" font-size="9" text-anchor="middle" font-style="italic">Ifnar1</text>
<text x="125.80" y="568.90" font-size="9" text-anchor="middle">KO</text>
<text x="156.00" y="557.90" font-size="9" text-anchor="middle" font-style="italic">Ifnar1</text>
<text x="156.00" y="568.90" font-size="9" text-anchor="middle" font-style="italic">Tada2b</text>
<text x="156.00" y="579.80" font-size="9" text-anchor="middle">DBKO</text>
<text x="228.20" y="374.70" font-size="9">Normalized</text>
<text x="228.20" y="385.90" font-size="9">expression</text>
<defs><linearGradient id="cb" x1="0" y1="0" x2="0" y2="1"><stop offset="0" stop-color="#d73027"/><stop offset="0.1667" stop-color="#fc8d59"/><stop offset="0.3333" stop-color="#fee090"/><stop offset="0.5" stop-color="#ffffbf"/><stop offset="0.6667" stop-color="#e0f3f8"/><stop offset="0.8333" stop-color="#91bfdb"/><stop offset="1" stop-color="#4575b4"/></linearGradient></defs>
<rect x="242.00" y="391.10" width="6.30" height="87.30" fill="url(#cb)"/>
<text x="250.30" y="406.40" font-size="6">1</text>
<text x="250.30" y="421.70" font-size="6">0.5</text>
<text x="250.30" y="436.70" font-size="6">0</text>
<text x="250.30" y="452.20" font-size="6">-0.5</text>
<text x="250.30" y="466.90" font-size="6">-1</text>
<line x1="528.60" y1="389.40" x2="528.60" y2="483.60" stroke="#222" stroke-width="1"/>
<line x1="528.10" y1="483.20" x2="623.00" y2="483.20" stroke="#222" stroke-width="1"/>
<line x1="528.80" y1="483.20" x2="528.80" y2="486.70" stroke="#222" stroke-width="0.9"/>
<text x="528.80" y="495.40" font-size="8.2" text-anchor="middle">0</text>
<line x1="552.40" y1="483.20" x2="552.40" y2="486.70" stroke="#222" stroke-width="0.9"/>
<text x="552.40" y="495.40" font-size="8.2" text-anchor="middle">1</text>
<line x1="576.10" y1="483.20" x2="576.10" y2="486.70" stroke="#222" stroke-width="0.9"/>
<text x="576.10" y="495.40" font-size="8.2" text-anchor="middle">2</text>
<line x1="599.70" y1="483.20" x2="599.70" y2="486.70" stroke="#222" stroke-width="0.9"/>
<text x="599.70" y="495.40" font-size="8.2" text-anchor="middle">3</text>
<text x="574.10" y="511.40" font-size="8.8" text-anchor="middle">-Log (adjPvalue)</text>
<rect x="529.10" y="397.20" width="77.50" height="13.50" fill="#e8262a" stroke="#1a1a1a" stroke-width="0.9"/>
<line x1="525.30" y1="403.95" x2="528.60" y2="403.95" stroke="#222" stroke-width="0.9"/>
<text x="522.60" y="406.70" font-size="9.05" text-anchor="end">Transcriptional misregulation in cancer</text>
<rect x="529.10" y="419.40" width="59.30" height="13.20" fill="#e8262a" stroke="#1a1a1a" stroke-width="0.9"/>
<line x1="525.30" y1="426.00" x2="528.60" y2="426.00" stroke="#222" stroke-width="0.9"/>
<text x="522.60" y="427.80" font-size="9.05" text-anchor="end">Hematopoietic cell lineage</text>
<rect x="529.10" y="440.80" width="41.50" height="13.10" fill="#e8262a" stroke="#1a1a1a" stroke-width="0.9"/>
<line x1="525.30" y1="447.35" x2="528.60" y2="447.35" stroke="#222" stroke-width="0.9"/>
<text x="522.60" y="449.70" font-size="9.05" text-anchor="end">Acute myeloid leukemia</text>
<rect x="529.10" y="462.70" width="41.50" height="13.00" fill="#e8262a" stroke="#1a1a1a" stroke-width="0.9"/>
<line x1="525.30" y1="469.20" x2="528.60" y2="469.20" stroke="#222" stroke-width="0.9"/>
<text x="522.60" y="471.20" font-size="9.05" text-anchor="end">Cytokine-cytokine receptor interaction</text>
</svg></body></html>
